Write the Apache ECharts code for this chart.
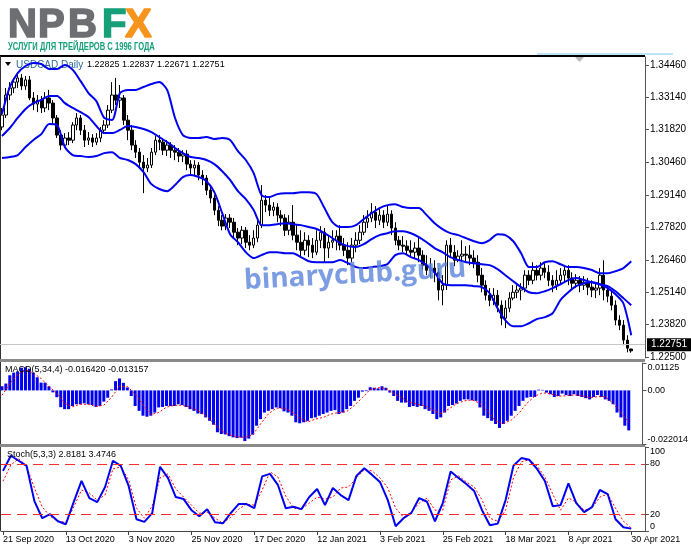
<!DOCTYPE html>
<html><head><meta charset="utf-8">
<script src="https://cdn.jsdelivr.net/npm/echarts@6/dist/echarts.min.js"></script>
<style>html,body{margin:0;padding:0;background:#fff}#c{width:691px;height:549px}</style>
</head><body><div id="c"></div>
<script>
// ---------------- DATA ----------------
const dateLabels = ['21 Sep 2020','13 Oct 2020','3 Nov 2020','25 Nov 2020','17 Dec 2020','12 Jan 2021','3 Feb 2021','25 Feb 2021','18 Mar 2021','8 Apr 2021','30 Apr 2021'];
const LABEL_STEP = 16;   // bars between date labels
const SAMPLE_STEP = 2;   // indicator lines sampled every 2 bars

const opens = [
1.3192,1.3241,1.3323,1.3352,1.3376,1.3393,1.3360,1.3385,1.3311,1.3286,
1.3302,1.3270,1.3311,1.3290,1.3229,1.3159,1.3118,1.3147,1.3138,1.3200,
1.3229,1.3179,1.3138,1.3147,1.3130,1.3147,1.3179,1.3200,1.3261,1.3323,
1.3302,1.3311,1.3220,1.3179,1.3118,1.3089,1.3048,1.3024,1.3036,1.3089,
1.3138,1.3130,1.3097,1.3118,1.3097,1.3089,1.3073,1.3081,1.3040,1.3024,
1.3036,1.2995,1.2983,1.2933,1.2901,1.2851,1.2810,1.2786,1.2819,1.2802,
1.2761,1.2737,1.2769,1.2720,1.2708,1.2737,1.2790,1.2892,1.2872,1.2851,
1.2864,1.2831,1.2819,1.2769,1.2802,1.2749,1.2720,1.2687,1.2728,1.2708,
1.2679,1.2728,1.2761,1.2696,1.2720,1.2728,1.2745,1.2708,1.2687,1.2655,
1.2708,1.2728,1.2761,1.2802,1.2819,1.2843,1.2810,1.2831,1.2802,1.2835,
1.2778,1.2728,1.2708,1.2704,1.2687,1.2679,1.2696,1.2667,1.2626,1.2605,
1.2614,1.2597,1.2524,1.2544,1.2708,1.2679,1.2646,1.2663,1.2671,1.2667,
1.2655,1.2638,1.2585,1.2544,1.2503,1.2482,1.2503,1.2462,1.2409,1.2450,
1.2491,1.2515,1.2524,1.2532,1.2585,1.2564,1.2605,1.2585,1.2614,1.2597,
1.2564,1.2544,1.2564,1.2585,1.2605,1.2573,1.2552,1.2564,1.2544,1.2556,
1.2536,1.2524,1.2532,1.2585,1.2524,1.2499,1.2462,1.2401,1.2380,1.2319,
1.22825];
const closes = [
1.3241,1.3323,1.3352,1.3376,1.3393,1.3360,1.3385,1.3311,1.3286,1.3302,
1.3270,1.3311,1.3290,1.3229,1.3159,1.3118,1.3147,1.3138,1.3200,1.3229,
1.3179,1.3138,1.3147,1.3130,1.3147,1.3179,1.3200,1.3261,1.3323,1.3302,
1.3311,1.3220,1.3179,1.3118,1.3089,1.3048,1.3024,1.3036,1.3089,1.3138,
1.3130,1.3097,1.3118,1.3097,1.3089,1.3073,1.3081,1.3040,1.3024,1.3036,
1.2995,1.2983,1.2933,1.2901,1.2851,1.2810,1.2786,1.2819,1.2802,1.2761,
1.2737,1.2769,1.2720,1.2708,1.2737,1.2790,1.2892,1.2872,1.2851,1.2864,
1.2831,1.2819,1.2769,1.2802,1.2749,1.2720,1.2687,1.2728,1.2708,1.2679,
1.2728,1.2761,1.2696,1.2720,1.2728,1.2745,1.2708,1.2687,1.2655,1.2708,
1.2728,1.2761,1.2802,1.2819,1.2843,1.2810,1.2831,1.2802,1.2835,1.2778,
1.2728,1.2708,1.2704,1.2687,1.2679,1.2696,1.2667,1.2626,1.2605,1.2614,
1.2597,1.2524,1.2544,1.2708,1.2679,1.2646,1.2663,1.2671,1.2667,1.2655,
1.2638,1.2585,1.2544,1.2503,1.2482,1.2503,1.2462,1.2409,1.2450,1.2491,
1.2515,1.2524,1.2532,1.2585,1.2564,1.2605,1.2585,1.2614,1.2597,1.2564,
1.2544,1.2564,1.2585,1.2605,1.2573,1.2552,1.2564,1.2544,1.2556,1.2536,
1.2524,1.2532,1.2585,1.2524,1.2499,1.2462,1.2401,1.2380,1.2319,1.2286,
1.22751];
const highs = [
1.3270,1.3352,1.3376,1.3393,1.3417,1.3409,1.3401,1.3401,1.3335,1.3323,
1.3319,1.3335,1.3344,1.3302,1.3241,1.3179,1.3167,1.3171,1.3212,1.3249,
1.3241,1.3200,1.3171,1.3163,1.3167,1.3192,1.3220,1.3282,1.3376,1.3393,
1.3364,1.3323,1.3241,1.3200,1.3138,1.3106,1.3077,1.3065,1.3106,1.3155,
1.3159,1.3147,1.3138,1.3130,1.3118,1.3106,1.3097,1.3097,1.3056,1.3056,
1.3048,1.3015,1.2995,1.2950,1.2913,1.2868,1.2831,1.2835,1.2835,1.2819,
1.2778,1.2786,1.2782,1.2749,1.2769,1.2810,1.2954,1.2913,1.2901,1.2884,
1.2880,1.2851,1.2835,1.2831,1.2872,1.2790,1.2769,1.2761,1.2749,1.2737,
1.2769,1.2786,1.2778,1.2749,1.2769,1.2769,1.2790,1.2737,1.2720,1.2737,
1.2761,1.2790,1.2831,1.2851,1.2880,1.2868,1.2860,1.2851,1.2872,1.2851,
1.2802,1.2745,1.2745,1.2728,1.2728,1.2720,1.2745,1.2687,1.2667,1.2655,
1.2646,1.2614,1.2585,1.2728,1.2737,1.2708,1.2687,1.2728,1.2704,1.2708,
1.2687,1.2667,1.2614,1.2564,1.2532,1.2532,1.2524,1.2482,1.2482,1.2515,
1.2544,1.2544,1.2552,1.2605,1.2605,1.2638,1.2626,1.2638,1.2634,1.2626,
1.2585,1.2605,1.2614,1.2626,1.2626,1.2597,1.2589,1.2581,1.2581,1.2573,
1.2564,1.2556,1.2614,1.2646,1.2544,1.2524,1.2482,1.2421,1.2401,1.2339,
1.22837];
const lows = [
1.3179,1.3229,1.3302,1.3331,1.3352,1.3344,1.3344,1.3302,1.3261,1.3253,
1.3249,1.3253,1.3261,1.3200,1.3147,1.3097,1.3106,1.3118,1.3126,1.3179,
1.3159,1.3110,1.3118,1.3110,1.3118,1.3130,1.3163,1.3188,1.3249,1.3282,
1.3270,1.3200,1.3138,1.3097,1.3065,1.3024,1.2921,1.3007,1.3024,1.3077,
1.3097,1.3077,1.3073,1.3065,1.3056,1.3048,1.3048,1.3015,1.2995,1.2995,
1.2974,1.2954,1.2913,1.2880,1.2831,1.2786,1.2769,1.2769,1.2778,1.2737,
1.2708,1.2712,1.2696,1.2687,1.2696,1.2720,1.2778,1.2843,1.2827,1.2827,
1.2802,1.2786,1.2745,1.2749,1.2728,1.2687,1.2659,1.2667,1.2659,1.2655,
1.2667,1.2696,1.2638,1.2655,1.2696,1.2687,1.2687,1.2663,1.2626,1.2638,
1.2679,1.2712,1.2749,1.2778,1.2802,1.2778,1.2790,1.2778,1.2786,1.2749,
1.2708,1.2687,1.2679,1.2667,1.2663,1.2655,1.2638,1.2605,1.2585,1.2573,
1.2556,1.2482,1.2462,1.2524,1.2655,1.2622,1.2638,1.2638,1.2638,1.2626,
1.2614,1.2556,1.2515,1.2482,1.2458,1.2462,1.2433,1.2380,1.2368,1.2433,
1.2482,1.2491,1.2482,1.2515,1.2544,1.2548,1.2564,1.2564,1.2573,1.2540,
1.2515,1.2524,1.2544,1.2556,1.2544,1.2524,1.2532,1.2515,1.2524,1.2503,
1.2495,1.2491,1.2503,1.2482,1.2474,1.2441,1.2380,1.2360,1.2298,1.2269,
1.22671];

// Bollinger bands (one value every 2 bars)
const bbUpper = [
1.3245,1.3356,1.3413,1.3442,1.3454,1.3450,1.3430,1.3430,1.3446,1.3426,
1.3380,1.3331,1.3298,1.3229,1.3221,1.3331,1.3344,1.3344,1.3356,1.3368,
1.3376,1.3344,1.3229,1.3159,1.3147,1.3147,1.3151,1.3143,1.3147,1.3139,
1.3093,1.3057,1.3003,1.2913,1.2905,1.2917,1.2921,1.2921,1.2925,1.2925,
1.2917,1.2860,1.2802,1.2782,1.2782,1.2790,1.2815,1.2839,1.2860,1.2872,
1.2876,1.2864,1.2860,1.2860,1.2831,1.2798,1.2774,1.2757,1.2749,1.2737,
1.2724,1.2716,1.2729,1.2753,1.2749,1.2724,1.2675,1.2618,1.2618,1.2638,
1.2642,1.2630,1.2618,1.2618,1.2614,1.2606,1.2593,1.2593,1.2601,1.2614,
1.2642];
const bbMiddle = [
1.3155,1.3188,1.3229,1.3266,1.3290,1.3303,1.3319,1.3319,1.3290,1.3270,
1.3253,1.3233,1.3196,1.3167,1.3167,1.3180,1.3196,1.3192,1.3184,1.3171,
1.3151,1.3130,1.3106,1.3085,1.3069,1.3065,1.3057,1.3040,1.3011,1.2975,
1.2929,1.2897,1.2852,1.2790,1.2790,1.2794,1.2798,1.2794,1.2790,1.2782,
1.2774,1.2757,1.2737,1.2716,1.2704,1.2700,1.2712,1.2733,1.2749,1.2757,
1.2765,1.2765,1.2757,1.2741,1.2720,1.2696,1.2679,1.2659,1.2647,1.2638,
1.2634,1.2630,1.2626,1.2610,1.2585,1.2560,1.2536,1.2515,1.2511,1.2519,
1.2532,1.2548,1.2565,1.2573,1.2565,1.2556,1.2548,1.2540,1.2519,1.2491,
1.2462];
const bbLower = [
1.3065,1.3069,1.3077,1.3110,1.3139,1.3163,1.3204,1.3200,1.3110,1.3077,
1.3073,1.3069,1.3073,1.3085,1.3089,1.3065,1.3057,1.3040,1.3007,1.2958,
1.2938,1.2929,1.2954,1.2987,1.2995,1.2987,1.2970,1.2925,1.2839,1.2753,
1.2720,1.2679,1.2655,1.2667,1.2679,1.2679,1.2675,1.2675,1.2659,1.2642,
1.2638,1.2638,1.2638,1.2647,1.2634,1.2618,1.2614,1.2618,1.2622,1.2630,
1.2667,1.2675,1.2659,1.2647,1.2626,1.2597,1.2552,1.2544,1.2544,1.2544,
1.2540,1.2536,1.2511,1.2450,1.2400,1.2376,1.2376,1.2388,1.2405,1.2413,
1.2429,1.2483,1.2515,1.2540,1.2552,1.2556,1.2548,1.2532,1.2507,1.2470,
1.2339];

// MACD(5,34,4) histogram, one value per bar
const macdHist = [
0.0017,0.0028,0.0062,0.0073,0.0078,0.0093,0.0095,0.0089,0.0073,0.0054,
0.0032,0.0032,0.0017,-0.0008,-0.0028,-0.0069,-0.0077,-0.0077,-0.0064,-0.0057,
-0.0057,-0.0053,-0.0057,-0.0060,-0.0068,-0.0064,-0.0046,-0.0030,0.0004,0.0038,
0.0049,0.0031,0.0012,-0.0023,-0.0064,-0.0084,-0.0104,-0.0108,-0.0104,-0.0091,
-0.0070,-0.0068,-0.0064,-0.0064,-0.0064,-0.0057,-0.0060,-0.0068,-0.0077,-0.0084,
-0.0095,-0.0097,-0.0111,-0.0125,-0.0141,-0.0172,-0.0179,-0.0181,-0.0188,-0.0193,
-0.0196,-0.0194,-0.0208,-0.0198,-0.0182,-0.0145,-0.0118,-0.0091,-0.0084,-0.0077,
-0.0070,-0.0073,-0.0086,-0.0091,-0.0104,-0.0131,-0.0135,-0.0131,-0.0125,-0.0114,
-0.0111,-0.0104,-0.0097,-0.0091,-0.0084,-0.0081,-0.0097,-0.0091,-0.0077,-0.0064,
-0.0043,-0.0030,-0.0005,-0.0003,0.0013,0.0011,0.0008,0.0017,0.0011,-0.0009,
-0.0023,-0.0043,-0.0050,-0.0050,-0.0068,-0.0064,-0.0068,-0.0064,-0.0077,-0.0084,
-0.0097,-0.0118,-0.0111,-0.0091,-0.0064,-0.0060,-0.0054,-0.0043,-0.0037,-0.0037,
-0.0041,-0.0043,-0.0070,-0.0104,-0.0114,-0.0125,-0.0138,-0.0154,-0.0138,-0.0125,
-0.0104,-0.0084,-0.0064,-0.0043,-0.0030,-0.0027,-0.0027,0.0003,0.0002,-0.0009,
-0.0016,-0.0027,-0.0023,-0.0013,-0.0019,-0.0023,-0.0016,-0.0023,-0.0027,-0.0032,
-0.0037,-0.0027,-0.0019,-0.0027,-0.0037,-0.0043,-0.0057,-0.0091,-0.0111,-0.0145,
-0.016420];
// MACD signal, one value every 2 bars
const macdSignal = [
-0.0020,0.0028,0.0065,0.0085,0.0071,0.0049,0.0016,-0.0012,-0.0053,-0.0067,
-0.0057,-0.0057,-0.0066,-0.0061,-0.0028,0.0017,0.0016,-0.0014,-0.0059,-0.0099,
-0.0091,-0.0069,-0.0061,-0.0061,-0.0069,-0.0083,-0.0104,-0.0134,-0.0166,-0.0183,
-0.0191,-0.0193,-0.0183,-0.0138,-0.0097,-0.0073,-0.0073,-0.0087,-0.0114,-0.0130,
-0.0118,-0.0111,-0.0097,-0.0091,-0.0087,-0.0061,-0.0030,0.0004,0.0011,0.0008,
-0.0012,-0.0030,-0.0049,-0.0057,-0.0063,-0.0081,-0.0095,-0.0077,-0.0055,-0.0043,
-0.0039,-0.0053,-0.0085,-0.0126,-0.0136,-0.0122,-0.0093,-0.0053,-0.0024,-0.0010,
-0.0014,-0.0024,-0.0022,-0.0019,-0.0022,-0.0030,-0.0026,-0.0026,-0.0053,-0.0091,
-0.013157];
// Stochastic(5,3,3), one value every 2 bars
const stochK = [
71.6,89.6,83.6,77.6,35.6,15.2,20,11.6,8,34.4,
59.6,39.2,34.4,52.4,83.6,77.6,53.6,14,10.8,21.2,
76.4,63.2,40.4,38,24.8,17.6,26,10.4,9.2,21.2,
32,32,27.2,65,68,55,27.2,28.8,26,40.4,
50,30.8,51.2,42.8,36.8,65.6,74.6,66.8,58.4,36.8,
5.6,15.2,21.6,39.2,34.8,11.6,33.2,70.8,63.2,56,
47.6,24.8,6.8,8.8,36.8,77.6,86.8,84.8,74,59.6,
29.6,30.8,56.8,33.2,22.4,28.4,48.8,44,14,4.4,
2.8181];
const stochD = [
59.2,78.8,86,77.6,51.2,28.4,17.6,11.6,10.4,28.4,
48.8,45.2,36.8,42.8,74,76.4,60.8,27.2,15.2,29.6,
63.2,68,50,40.4,30.8,21.2,22.4,15.2,9.2,16.4,
26,32,30.8,48.8,70.4,64.4,41.6,27.2,26,33.2,
40.4,38,40.4,51.2,52.4,63.2,72.8,71.6,63.2,51.2,
27.2,16.4,22.4,33.2,39.2,24.8,24.8,60.8,65.6,58.4,
52.4,36.8,15.2,11.6,24.8,63.2,82.4,84.8,77.6,64.4,
44,24.8,39.2,34.4,24.8,27.2,40.4,44,27.2,11.6,
3.4746];
const stochLevels = [20, 80];

const priceTicks = [1.2250,1.2382,1.2514,1.2646,1.2782,1.2914,1.3046,1.3182,1.3314,1.3446];
const macdTicks = [-0.022014, 0, 0.01125];
const macdTickText = {'-0.022014':'-0.022014','0':'0.00','0.01125':'0.01125'};
const stochTicks = [0, 20, 80, 100];

// ---------------- CHART ----------------
const FONT = '"Liberation Sans", Arial, sans-serif';
const nBars = opens.length;
const EXTRA = 3; // empty space after last bar (chart shift)
const cats = Array.from({length: nBars + EXTRA}, (_, i) =>
  (i % LABEL_STEP === 0 && i / LABEL_STEP < dateLabels.length) ? dateLabels[i / LABEL_STEP] : '');
const candles = opens.map((o, i) => [o, closes[i], lows[i], highs[i]]);
const sampled = arr => arr.map((v, k) => [k * SAMPLE_STEP, v]);
const lastClose = closes[closes.length - 1];
const last = a => a[a.length - 1];

const hiddenX = gi => ({type:'category', gridIndex:gi, data:cats, boundaryGap:true,
  axisLine:{show:false}, axisTick:{show:false}, axisLabel:{show:false}, splitLine:{show:false}});
const labelInterval = (i, v) => v !== '';

const blue = '#0000f0';
const red = '#ff0000';
const logoFont = 'bold 40px ' + FONT;
const logoLetter = (ch, x, color) => ({type:'text', x:x, y:6,
  style:{text:ch, fill:color, stroke:color, lineWidth:1.6, font:logoFont}});

const option = {
  animation: false,
  backgroundColor: '#ffffff',
  grid: [
    {left:0, width:645, top:57, height:301},
    {left:0, width:645, top:363, height:81},
    {left:0, width:645, top:447, height:84}
  ],
  xAxis: [
    hiddenX(0), hiddenX(1),
    {type:'category', gridIndex:2, data:cats, boundaryGap:true,
     axisLine:{show:true, lineStyle:{color:'#444', width:1}},
     axisTick:{show:true, interval:labelInterval, alignWithLabel:true, length:4, lineStyle:{color:'#444'}},
     axisLabel:{show:true, interval:labelInterval, align:'left', margin:4, fontSize:9, color:'#000', fontFamily:FONT},
     splitLine:{show:false}}
  ],
  yAxis: [
    {type:'value', gridIndex:0, position:'right', min:1.22457, max:1.34788,
     axisLine:{show:true, lineStyle:{color:'#555'}},
     axisTick:{show:true, length:4, customValues:priceTicks, lineStyle:{color:'#555'}},
     axisLabel:{customValues:priceTicks, formatter:v => v.toFixed(5), fontSize:10, color:'#000', margin:5, fontFamily:FONT},
     splitLine:{show:false}},
    {type:'value', gridIndex:1, position:'right', min:macdTicks[0], max:last(macdTicks),
     axisLine:{show:true, lineStyle:{color:'#555'}},
     axisTick:{show:true, length:4, customValues:macdTicks, lineStyle:{color:'#555'}},
     axisLabel:{customValues:macdTicks, formatter:v => macdTickText[String(v)] || String(v), fontSize:9, color:'#000', margin:5, fontFamily:FONT,
       verticalAlignMaxLabel:'top', verticalAlignMinLabel:'bottom'},
     splitLine:{show:false}},
    {type:'value', gridIndex:2, position:'right', min:0, max:100,
     axisLine:{show:true, lineStyle:{color:'#555'}},
     axisTick:{show:true, length:4, customValues:stochTicks, lineStyle:{color:'#555'}},
     axisLabel:{customValues:stochTicks, formatter:v => String(v), fontSize:9, color:'#000', margin:5, fontFamily:FONT,
       verticalAlignMaxLabel:'top', verticalAlignMinLabel:'bottom'},
     splitLine:{show:false}}
  ],
  series: [
    {type:'candlestick', xAxisIndex:0, yAxisIndex:0, data:candles, barWidth:3,
     itemStyle:{color:'#ffffff', color0:'#000000', borderColor:'#000000', borderColor0:'#000000', borderWidth:1},
     markLine:{symbol:'none', silent:true, animation:false,
       data:[{yAxis:lastClose}],
       lineStyle:{color:'#c4c4c4', width:1, type:'solid'},
       label:{show:true, position:'end', formatter:() => lastClose.toFixed(5), color:'#fff', backgroundColor:'#000',
         padding:[2,4,1,4], fontSize:10, distance:2, fontFamily:FONT}}},
    {type:'line', xAxisIndex:0, yAxisIndex:0, data:sampled(bbUpper), symbol:'none', smooth:0.25, lineStyle:{color:blue, width:2}, z:3},
    {type:'line', xAxisIndex:0, yAxisIndex:0, data:sampled(bbMiddle), symbol:'none', smooth:0.25, lineStyle:{color:blue, width:2}, z:3},
    {type:'line', xAxisIndex:0, yAxisIndex:0, data:sampled(bbLower), symbol:'none', smooth:0.25, lineStyle:{color:blue, width:2}, z:3},
    {type:'bar', xAxisIndex:1, yAxisIndex:1, data:macdHist, barWidth:3, itemStyle:{color:blue}},
    {type:'line', xAxisIndex:1, yAxisIndex:1, data:sampled(macdSignal), symbol:'none', lineStyle:{color:red, width:1, type:[2,2]}, z:4},
    {type:'line', xAxisIndex:2, yAxisIndex:2, data:sampled(stochD), symbol:'none', lineStyle:{color:red, width:1, type:[2,2]}, z:3},
    {type:'line', xAxisIndex:2, yAxisIndex:2, data:sampled(stochK), symbol:'none', lineStyle:{color:blue, width:2}, z:4,
     markLine:{symbol:'none', silent:true, animation:false, label:{show:false},
       data:stochLevels.map(v => ({yAxis:v})),
       lineStyle:{color:'#ff2a2a', width:1, type:[10,6]}}}
  ],
  graphic: [
    // logo
    logoLetter('N', 8, '#6d6e71'),
    logoLetter('P', 38, '#6d6e71'),
    logoLetter('B', 68, '#6d6e71'),
    logoLetter('F', 102, '#16a07a'),
    logoLetter('X', 125, '#f7941e'),
    {type:'text', x:8, y:41, scaleX:0.69, style:{text:'УСЛУГИ ДЛЯ ТРЕЙДЕРОВ С 1996 ГОДА', fill:'#16a07a', font:'bold 11px ' + FONT}},
    // frame lines
    {type:'rect', shape:{x:537, y:53, width:136, height:2}, style:{fill:'#bfe3f7'}},
    {type:'rect', shape:{x:0, y:55, width:645, height:2}, style:{fill:'#000'}},
    {type:'rect', shape:{x:0, y:56, width:1, height:475}, style:{fill:'#333'}},
    {type:'rect', shape:{x:0, y:359, width:645, height:3}, style:{fill:'#8a8a8a'}},
    {type:'rect', shape:{x:0, y:444, width:645, height:3}, style:{fill:'#8a8a8a'}},
    {type:'polygon', shape:{points:[[575,57],[584,57],[579.5,62]]}, style:{fill:'#b8b8b8'}},
    // headers
    {type:'polygon', shape:{points:[[5,62],[11,62],[8,66]]}, style:{fill:'#000'}},
    {type:'text', x:16, y:65, style:{text:'USDCAD,Daily', fill:'#2a6a9a', font:'10px ' + FONT, verticalAlign:'middle'}},
    {type:'text', x:87, y:65, style:{text:'1.22825 1.22837 1.22671 1.22751', fill:'#000', font:'9px ' + FONT, verticalAlign:'middle'}},
    {type:'text', x:5, y:370, z:10, style:{text:'MACD(5,34,4) -0.016420 -0.013157', fill:'#000', font:'9px ' + FONT, verticalAlign:'middle'}},
    {type:'text', x:7, y:455, z:10, style:{text:'Stoch(5,3,3) 2.8181 3.4746', fill:'#000', font:'9px ' + FONT, verticalAlign:'middle'}},
    // watermark
    {type:'text', x:244, y:281, rotation:0.055, z:100,
     style:{text:'binaryclub.guru', fill:'rgba(95,135,218,0.82)', font:'bold 28px "Open Sans", "DejaVu Sans", sans-serif', verticalAlign:'middle'}}
  ]
};

const chart = echarts.init(document.getElementById('c'), null, {renderer:'canvas'});
chart.setOption(option);
</script>
</body></html>
